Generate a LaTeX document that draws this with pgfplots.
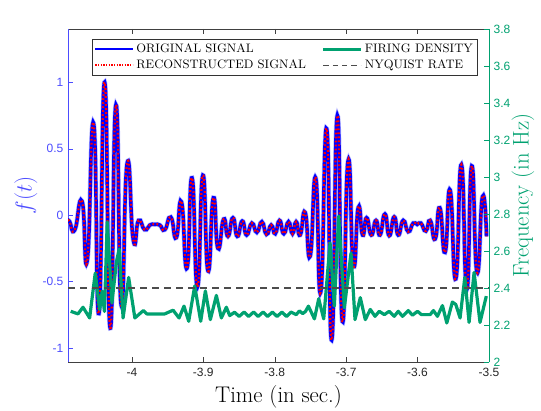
\documentclass[border=0pt]{standalone}
\usepackage{pgfplots}
\pgfplotsset{compat=1.18}
\usepackage{fontspec}
\newfontfamily\tickfont{Liberation Sans}
\definecolor{sigblue}{rgb}{0,0,1}
\definecolor{sigred}{rgb}{1,0,0}
\definecolor{axblue}{rgb}{0.3,0.3,1}
\definecolor{fgreen}{rgb}{0.0,0.63,0.44}
\newcommand{\tfont}{\tickfont\fontsize{9}{10}\selectfont}
\newcommand{\lfont}{\fontsize{17}{20}\selectfont}

\pgfplotstableread{
x y
-4.0894 -0.04
-4.0870 -0.05
-4.0800 -0.113
-4.0698 0.105
-4.0624 -0.34
-4.0535 0.69
-4.0461 -0.74
-4.0381 1.0
-4.0303 -0.85
-4.0223 0.83
-4.0149 -0.68
-4.0066 0.39
-3.9979 -0.19
-3.9906 -0.04
-3.9821 -0.11
-3.9749 -0.075
-3.9679 -0.07
-3.9609 -0.075
-3.9539 -0.11
-3.9455 -0.015
-3.9378 -0.17
-3.9306 0.10
-3.9228 -0.40
-3.9158 0.28
-3.9082 -0.54
-3.9006 0.30
-3.8934 -0.42
-3.8859 0.13
-3.8795 -0.25
-3.8715 -0.03
-3.8655 -0.16
-3.8585 -0.02
-3.8524 -0.16
-3.8454 -0.045
-3.8394 -0.15
-3.8320 -0.06
-3.8250 -0.13
-3.8180 -0.05
-3.8115 -0.145
-3.8049 -0.075
-3.7993 -0.14
-3.7933 -0.04
-3.7873 -0.14
-3.7807 -0.05
-3.7751 -0.14
-3.7700 -0.05
-3.7644 -0.15
-3.7574 0.02
-3.7504 -0.31
-3.7426 0.28
-3.7356 -0.58
-3.7272 0.65
-3.7203 -0.94
-3.7123 0.75
-3.7053 -0.80
-3.6973 0.41
-3.6899 -0.376
-3.6830 0.058
-3.6770 -0.15
-3.6714 -0.02
-3.6648 -0.15
-3.6582 -0.04
-3.6527 -0.15
-3.6457 0.008
-3.6397 -0.155
-3.6327 -0.013
-3.6271 -0.15
-3.6201 -0.04
-3.6131 -0.125
-3.6061 -0.06
-3.6006 -0.07
-3.5954 -0.06
-3.5884 -0.12
-3.5824 -0.04
-3.5754 -0.18
-3.5689 0.055
-3.5615 -0.28
-3.5545 0.19
-3.5465 -0.48
-3.5387 0.38
-3.5311 -0.56
-3.5242 0.37
-3.5168 -0.43
-3.5091 0.14
-3.5035 -0.16
}\signal

\pgfplotstableread{
x y
-4.0856 2.274
-4.0754 2.260
-4.0684 2.296
-4.0591 2.238
-4.0513 2.480
-4.0451 2.284
-4.0415 2.382
-4.0384 2.273
-4.0345 2.757
-4.0279 2.320
-4.0214 2.546
-4.0177 2.611
-4.0123 2.238
-4.0045 2.457
-3.9958 2.238
-3.9839 2.278
-3.9791 2.260
-3.9679 2.260
-3.9539 2.260
-3.9423 2.280
-3.9339 2.238
-3.9270 2.302
-3.9204 2.220
-3.9120 2.411
-3.9036 2.220
-3.8971 2.384
-3.8901 2.229
-3.8817 2.360
-3.8747 2.238
-3.8677 2.296
-3.8631 2.251
-3.8561 2.269
-3.8499 2.246
-3.8429 2.270
-3.8366 2.246
-3.8296 2.270
-3.8233 2.246
-3.8163 2.270
-3.8101 2.246
-3.8031 2.270
-3.7968 2.246
-3.7898 2.270
-3.7835 2.246
-3.7772 2.270
-3.7700 2.256
-3.7654 2.276
-3.7608 2.262
-3.7570 2.273
-3.7528 2.302
-3.7444 2.233
-3.7384 2.342
-3.7314 2.233
-3.7225 2.644
-3.7165 2.302
-3.7105 2.789
-3.7025 2.293
-3.6932 2.589
-3.6876 2.229
-3.6802 2.348
-3.6732 2.229
-3.6662 2.284
-3.6596 2.247
-3.6536 2.274
-3.6466 2.256
-3.6397 2.274
-3.6327 2.247
-3.6271 2.274
-3.6211 2.247
-3.6131 2.278
-3.6071 2.253
-3.6001 2.274
-3.5946 2.256
-3.5824 2.256
-3.5778 2.278
-3.5722 2.247
-3.5652 2.305
-3.5591 2.211
-3.5513 2.324
-3.5465 2.311
-3.5405 2.238
-3.5339 2.457
-3.5279 2.214
-3.5209 2.484
-3.5126 2.214
-3.5038 2.356
}\firing

\begin{document}
\begin{tikzpicture}
\useasboundingbox (0,0) rectangle (405.75pt,307.5pt);
% left axis: signal
\begin{axis}[
    at={(51pt,36pt)}, anchor=south west,
    scale only axis, width=315.75pt, height=249.75pt,
    xmin=-4.0894, xmax=-3.5, ymin=-1.105, ymax=1.4,
    axis x line*=box, axis y line*=left,
    xtick={-4,-3.9,-3.8,-3.7,-3.6,-3.5},
    xticklabels={-4,-3.9,-3.8,-3.7,-3.6,-3.5},
    ytick={-1,-0.5,0,0.5,1},
    yticklabels={-1,-0.5,0,0.5,1},
    tick align=inside, major tick length=3.5pt,
    x axis line style={draw=black!75, line width=0.5pt, -},
    y axis line style={draw=axblue, line width=0.5pt, -},
    xtick style={draw=black!75}, ytick style={draw=axblue},
    ticklabel style={font=\tfont},
    yticklabel style={text=axblue},
    xticklabel style={text=black!85, yshift=-1pt},
    xlabel={Time (in sec.)}, ylabel={$f(t)$},
    label style={font=\lfont},
    ylabel style={text=axblue}, ylabel shift=-3pt,
]
\addplot[draw=blue!55!white, opacity=0.5, line width=3.6pt, smooth, tension=1] table {\signal};
\addplot[draw=sigblue, line width=2.6pt, smooth, tension=1] table {\signal};
\addplot[draw=sigred, line width=1.7pt, smooth, tension=1, dash pattern=on 1.3pt off 1.7pt] table {\signal};
\node[anchor=north east, inner sep=0pt, font=\tfont, text=black!80, yshift=-20pt] at (rel axis cs:1,0) {×10\textsuperscript{-3}};
\end{axis}
% right axis: firing density
\begin{axis}[
    at={(51pt,36pt)}, anchor=south west,
    scale only axis, width=315.75pt, height=249.75pt,
    xmin=-4.0894, xmax=-3.5, ymin=2, ymax=3.8,
    axis x line=none, axis y line*=right,
    ytick={2,2.2,2.4,2.6,2.8,3,3.2,3.4,3.6,3.8},
    yticklabels={2,2.2,2.4,2.6,2.8,3,3.2,3.4,3.6,3.8},
    tick align=inside, major tick length=3.5pt,
    y axis line style={draw=fgreen, line width=0.5pt, -},
    ytick style={draw=fgreen},
    yticklabel style={font=\tfont, text=fgreen},
    ylabel={Frequency (in Hz)},
    ylabel style={font=\lfont, text=fgreen}, ylabel shift=-6pt,
    legend columns=2,
    legend cell align=left,
    legend style={at={(0.057,0.970)}, anchor=north west, draw=black!80,
        font=\fontsize{9.2}{10.5}\selectfont, inner sep=1.5pt,
        /tikz/every even column/.append style={column sep=10pt}},
    legend image code/.code={\draw[#1] (0pt,0pt) -- (28pt,0pt);},
]
\addlegendimage{draw=sigblue, line width=1.6pt}
\addlegendentry{ORIGINAL SIGNAL}
\addlegendimage{draw=fgreen, line width=2.2pt}
\addlegendentry{FIRING DENSITY}
\addlegendimage{draw=sigred, line width=1.6pt, dash pattern=on 1.1pt off 0.9pt}
\addlegendentry{RECONSTRUCTED SIGNAL}
\addlegendimage{draw=black!70, line width=1.3pt, dash pattern=on 4pt off 3pt}
\addlegendentry{NYQUIST RATE}
\addplot[draw=fgreen, line width=2.4pt, line join=round, forget plot] table {\firing};
\addplot[draw=black!70, line width=1.5pt, dash pattern=on 5.5pt off 3.5pt, forget plot] coordinates {(-4.0894,2.4) (-3.5,2.4)};
\node[anchor=south west, inner sep=0pt, font=\tfont, text=fgreen, xshift=1.5pt, yshift=9pt] at (rel axis cs:1,1) {×10\textsuperscript{5}};
\end{axis}
\end{tikzpicture}
\end{document}
